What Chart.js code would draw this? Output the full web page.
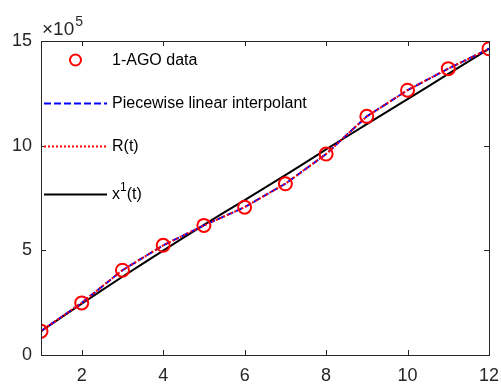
<!DOCTYPE html>
<html>
<head>
<meta charset="utf-8">
<script src="https://cdn.jsdelivr.net/npm/chart.js@4/dist/chart.umd.min.js"></script>
<style>
html,body{margin:0;padding:0;background:#fff;}
#wrap{width:501px;height:387px;position:relative;}
</style>
</head>
<body>
<div id="wrap"><canvas id="c" width="501" height="387"></canvas></div>
<script>
// ---- data (values in units of 1e5) ----
const tValues = [1, 2, 3, 4, 5, 6, 7, 8, 9, 10, 11, 12];
const agoData = [1.14, 2.49, 4.05, 5.24, 6.19, 7.06, 8.18, 9.60, 11.40, 12.65, 13.68, 14.63];
const interpolant = [1.14, 2.49, 4.05, 5.24, 6.19, 7.06, 8.18, 9.60, 11.40, 12.65, 13.68, 14.63];
const rValues = [1.14, 2.49, 4.05, 5.24, 6.19, 7.06, 8.18, 9.60, 11.40, 12.65, 13.68, 14.63];
const x1Values = [1.14, 2.45, 3.74, 4.99, 6.22, 7.40, 8.59, 9.82, 11.03, 12.22, 13.43, 14.63];
const xTickValues = [2, 4, 6, 8, 10, 12];
const yTickValues = [0, 5, 10, 15];
const scaleExp = 5;
const seriesLabels = ['1-AGO data', 'Piecewise linear interpolant', 'R(t)', 'x^1(t)'];

const SCALE = Math.pow(10, scaleExp);
const pts = arr => arr.map((v, i) => ({x: tValues[i], y: v * SCALE}));
const AX = '#262626';
const FONT = '"Liberation Sans", Arial, Helvetica, sans-serif';

const boxPlugin = {
  id: 'boxPlugin',
  afterDraw(chart) {
    const ctx = chart.ctx;
    const a = chart.chartArea;
    const xs = chart.scales.x, ys = chart.scales.y;
    ctx.save();
    ctx.strokeStyle = AX;
    ctx.lineWidth = 1;
    ctx.setLineDash([]);
    ctx.strokeRect(Math.round(a.left) + 0.5, Math.round(a.top) + 0.5,
      Math.round(a.right - a.left), Math.round(a.bottom - a.top));
    const tl = 5;
    ctx.beginPath();
    xTickValues.forEach(v => {
      const px = Math.round(xs.getPixelForValue(v)) + 0.5;
      ctx.moveTo(px, a.bottom); ctx.lineTo(px, a.bottom - tl);
      ctx.moveTo(px, a.top); ctx.lineTo(px, a.top + tl);
    });
    yTickValues.forEach(v => {
      const py = Math.round(ys.getPixelForValue(v * SCALE)) + 0.5;
      ctx.moveTo(a.left, py); ctx.lineTo(a.left + tl, py);
      ctx.moveTo(a.right, py); ctx.lineTo(a.right - tl, py);
    });
    ctx.stroke();

    // exponent label
    ctx.fillStyle = AX;
    ctx.textBaseline = 'alphabetic';
    ctx.font = '19px ' + FONT;
    ctx.fillText('\u00d710', a.left + 1, a.top - 6);
    const w = ctx.measureText('\u00d710').width;
    ctx.font = '14px ' + FONT;
    ctx.fillText(String(scaleExp), a.left + 2 + w, a.top - 15);

    // legend
    const rows = [60, 103, 146, 194];
    const x0 = 44, x1 = 107, tx = 112;
    chart.data.datasets.forEach((ds, i) => {
      const y = rows[i];
      ctx.save();
      if (i === 0) {
        ctx.strokeStyle = ds.pointBorderColor;
        ctx.lineWidth = 2;
        ctx.beginPath();
        ctx.arc((x0 + x1) / 2, y, 5.5, 0, Math.PI * 2);
        ctx.stroke();
      } else {
        ctx.strokeStyle = ds.borderColor;
        ctx.lineWidth = ds.borderWidth;
        ctx.setLineDash(ds.borderDash || []);
        ctx.beginPath();
        ctx.moveTo(x0, y + 0.5); ctx.lineTo(x1, y + 0.5);
        ctx.stroke();
      }
      ctx.restore();
      ctx.fillStyle = '#000';
      ctx.textBaseline = 'middle';
      const lab = seriesLabels[i];
      if (lab.indexOf('^') >= 0) {
        const [base, rest] = lab.split('^');
        const sup = rest.charAt(0), tail = rest.slice(1);
        ctx.font = '16px ' + FONT;
        ctx.fillText(base, tx, y + 1);
        let xx = tx + ctx.measureText(base).width;
        ctx.font = '12px ' + FONT;
        ctx.fillText(sup, xx, y - 6);
        xx += ctx.measureText(sup).width;
        ctx.font = '16px ' + FONT;
        ctx.fillText(tail, xx, y + 1);
      } else {
        ctx.font = '16px ' + FONT;
        ctx.fillText(lab, tx, y + 1);
      }
    });
    ctx.restore();
  }
};

new Chart(document.getElementById('c'), {
  type: 'line',
  data: {
    datasets: [
      {
        label: seriesLabels[0], data: pts(agoData), showLine: false,
        pointRadius: 6.5, pointBorderWidth: 2, pointBorderColor: '#ff0000',
        pointBackgroundColor: 'rgba(0,0,0,0)', borderColor: '#ff0000', order: 0
      },
      {
        label: seriesLabels[1], data: pts(interpolant), borderColor: '#0000ff',
        borderWidth: 2, borderDash: [7, 3], pointRadius: 0, tension: 0, order: 2
      },
      {
        label: seriesLabels[2], data: pts(rValues), borderColor: '#ff0000',
        borderWidth: 2, borderDash: [2, 2], pointRadius: 0, tension: 0, order: 1
      },
      {
        label: seriesLabels[3], data: pts(x1Values), borderColor: '#000000',
        borderWidth: 2, pointRadius: 0, tension: 0.2, order: 3
      }
    ]
  },
  options: {
    responsive: false,
    animation: false,
    devicePixelRatio: 1,
    layout: {padding: {left: 0, right: 12, top: 41, bottom: 0}},
    plugins: {legend: {display: false}, tooltip: {enabled: false}},
    scales: {
      x: {
        type: 'linear', min: 1, max: 12,
        grid: {display: false, drawTicks: false},
        border: {display: false},
        afterBuildTicks: s => { s.ticks = xTickValues.map(v => ({value: v})); },
        afterFit: s => { s.height = 32; s.paddingLeft = 0; s.paddingRight = 0; },
        ticks: {color: AX, font: {family: FONT, size: 18}, padding: 10, maxRotation: 0,
          callback: v => String(v)}
      },
      y: {
        type: 'linear', min: 0, max: 15 * SCALE,
        grid: {display: false, drawTicks: false},
        border: {display: false},
        afterBuildTicks: s => { s.ticks = yTickValues.map(v => ({value: v * SCALE})); },
        afterFit: s => { s.width = 41; s.paddingTop = 0; s.paddingBottom = 0; },
        ticks: {color: AX, font: {family: FONT, size: 18}, padding: 9,
          callback: v => String(Math.round(v / SCALE))}
      }
    }
  },
  plugins: [boxPlugin]
});
</script>
</body>
</html>
